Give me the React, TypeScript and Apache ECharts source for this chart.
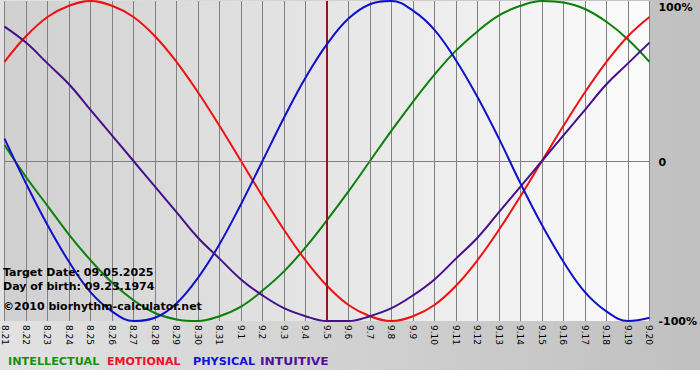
import React, { useEffect, useRef } from "react";
import * as echarts from "echarts";

const days = [
  "8.21", "8.22", "8.23", "8.24", "8.25", "8.26", "8.27", "8.28", "8.29", "8.30", "8.31",
  "9.1", "9.2", "9.3", "9.4", "9.5", "9.6", "9.7", "9.8", "9.9", "9.10",
  "9.11", "9.12", "9.13", "9.14", "9.15", "9.16", "9.17", "9.18", "9.19", "9.20",
];

const intellectual = [
  0.1, -0.1, -0.28, -0.46, -0.62, -0.76, -0.87, -0.95, -0.99, -1.0, -0.97,
  -0.91, -0.81, -0.69, -0.54, -0.37, -0.19, 0, 0.19, 0.37, 0.54,
  0.69, 0.81, 0.91, 0.97, 1.0, 0.99, 0.95, 0.87, 0.76, 0.62,
];
const emotional = [
  0.62, 0.78, 0.9, 0.97, 1.0, 0.97, 0.9, 0.78, 0.62, 0.43, 0.22,
  0, -0.22, -0.43, -0.62, -0.78, -0.9, -0.97, -1.0, -0.97, -0.9,
  -0.78, -0.62, -0.43, -0.22, 0, 0.22, 0.43, 0.62, 0.78, 0.9,
];
const physical = [
  0.14, -0.14, -0.4, -0.63, -0.82, -0.94, -1.0, -0.98, -0.89, -0.73, -0.52,
  -0.27, 0, 0.27, 0.52, 0.73, 0.89, 0.98, 1.0, 0.94, 0.82,
  0.63, 0.4, 0.14, -0.14, -0.4, -0.63, -0.82, -0.94, -1.0, -0.98,
];
const intuitive = [
  0.84, 0.74, 0.61, 0.48, 0.32, 0.16, 0, -0.16, -0.32, -0.48, -0.61,
  -0.74, -0.84, -0.92, -0.97, -1.0, -1.0, -0.97, -0.92, -0.84, -0.74,
  -0.61, -0.48, -0.32, -0.16, 0, 0.16, 0.32, 0.48, 0.61, 0.74,
];

const targetDay = "9.5";
const infoLines = [
  "Target Date: 09.05.2025",
  "Day of birth: 09.23.1974",
  "\u00A92010 biorhythm-calculator.net",
];

const seriesDefs = [
  { name: "INTELLECTUAL", data: intellectual, color: "#0b800b", legendColor: "#119211" },
  { name: "EMOTIONAL", data: emotional, color: "#f01010", legendColor: "#f0102a" },
  { name: "PHYSICAL", data: physical, color: "#1010cc", legendColor: "#1010e0" },
  { name: "INTUITIVE", data: intuitive, color: "#45108a", legendColor: "#5010a0" },
];

const FONT = "DejaVu Sans";

export default function App() {
  const ref = useRef<HTMLDivElement>(null);

  useEffect(() => {
    if (!ref.current) return;
    const chart = echarts.init(ref.current, undefined, { renderer: "svg" });

    const legendX = [8, 107, 193, 260];
    const legendScale = [1.02, 1, 1.02, 1.12];
    const infoY = [272, 286.5, 306];

    const option: any = {
      animation: false,
      backgroundColor: "#ffffff",
      grid: {
        left: 1,
        right: 49,
        top: 1,
        bottom: 59,
        show: true,
        borderWidth: 0,
        backgroundColor: new echarts.graphic.LinearGradient(0, 0, 1, 0, [
          { offset: 0, color: "#d0d0d0" },
          { offset: 1, color: "#fbfbfb" },
        ]),
      },
      xAxis: {
        type: "category",
        data: days,
        boundaryGap: false,
        axisLine: { show: true, lineStyle: { color: "#808080", width: 1 } },
        axisTick: { show: true, length: 3, lineStyle: { color: "#808080" } },
        splitLine: { show: true, lineStyle: { color: "#808080", width: 1 } },
        axisLabel: {
          rotate: -90,
          margin: 4,
          interval: 0,
          color: "#000",
          fontFamily: FONT,
          fontSize: 9,
        },
      },
      yAxis: {
        type: "value",
        position: "right",
        min: -1,
        max: 1,
        interval: 1,
        axisLine: { show: false },
        axisTick: { show: false },
        splitLine: { show: false },
        axisLabel: {
          margin: 9,
          color: "#000",
          fontFamily: FONT,
          fontSize: 11,
          fontWeight: "bold",
          formatter: (v: number) => (v === 1 ? "{top|100%}" : v === 0 ? "{mid|0}" : "-100%"),
          rich: {
            top: {
              padding: [12, 0, 0, 0],
              color: "#000",
              fontFamily: FONT,
              fontSize: 11,
              fontWeight: "bold",
            },
            mid: {
              padding: [3, 0, 0, 0],
              color: "#000",
              fontFamily: FONT,
              fontSize: 11,
              fontWeight: "bold",
            },
          },
        },
      },
      series: seriesDefs.map((s, i) => ({
        name: s.name,
        type: "line",
        data: s.data,
        smooth: 0.4,
        showSymbol: false,
        lineStyle: { color: s.color, width: 2 },
        itemStyle: { color: s.color },
        z: 3 + i,
        ...(i === 0
          ? {
              markLine: {
                silent: true,
                symbol: "none",
                label: { show: false },
                data: [
                  { yAxis: 0, lineStyle: { color: "#808080", width: 1, type: "solid" } },
                  { xAxis: targetDay, lineStyle: { color: "#8b1a1a", width: 2, type: "solid" } },
                ],
              },
            }
          : {}),
      })),
      graphic: [
        {
          type: "rect",
          z: -10,
          silent: true,
          shape: { x: 0, y: 0, width: 700, height: 370 },
          style: {
            fill: new echarts.graphic.LinearGradient(0, 0, 1, 0, [
              { offset: 0, color: "#e2e2e2" },
              { offset: 1, color: "#c0c0c0" },
            ]),
          },
        },
        ...infoLines.map((t, i) => ({
          type: "text",
          z: 100,
          x: 3,
          y: infoY[i],
          style: {
            text: t,
            fill: "#000",
            font: `bold 11px "${FONT}"`,
            textAlign: "left",
            textVerticalAlign: "middle",
          },
        })),
        ...seriesDefs.map((s, i) => ({
          type: "text",
          z: 100,
          x: legendX[i],
          y: 361.5,
          scaleX: legendScale[i],
          style: {
            text: s.name,
            fill: s.legendColor,
            font: `bold 11px "${FONT}"`,
            textAlign: "left",
            textVerticalAlign: "middle",
          },
        })),
      ],
    };

    chart.setOption(option);
    return () => chart.dispose();
  }, []);

  return (
    <div
      ref={ref}
      style={{ position: "fixed", left: 0, top: 0, width: 700, height: 380 }}
    />
  );
}
